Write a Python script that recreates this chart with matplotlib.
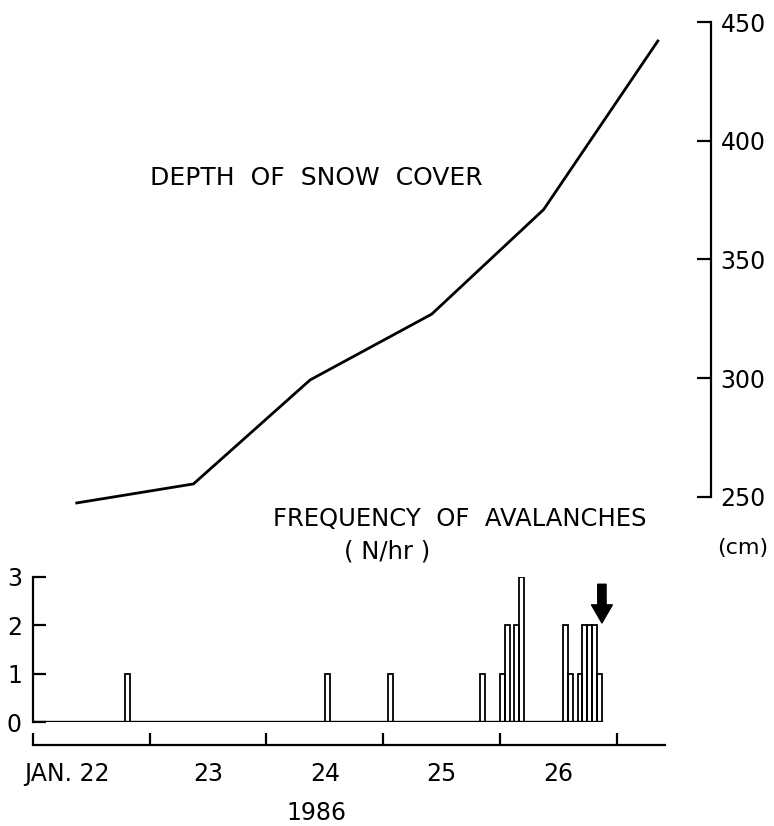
import numpy as np
import matplotlib
matplotlib.use("Agg")
import matplotlib.pyplot as plt

# snow depth, read every day at about 9 h (hours counted from Jan 22, 0 h)
depth_hours = [9, 33, 57, 82, 105, 128.5]
depth_cm = [247.5, 255.5, 299.3, 327.0, 371.0, 442.0]

# avalanche counts per hour (only hours with avalanches)
aval_hours = [19, 60, 73, 92, 96, 97, 99, 100, 109, 110, 112, 113, 114, 115, 116]
aval_counts = [1, 1, 1, 1, 1, 2, 2, 3, 2, 1, 1, 2, 2, 2, 1]

day_labels = ["JAN. 22", "23", "24", "25", "26"]
day_label_pos = [7, 36, 60, 84, 108]
depth_ticks = [250, 300, 350, 400, 450]
freq_ticks = [0, 1, 2, 3]
arrow_hour = aval_hours[-1] + 1

W, H = 774, 826
plt.rcParams['font.family'] = ['DejaVu Sans']
fig = plt.figure(figsize=(W / 100, H / 100), dpi=100)

px_per_hr = 116.7 / 24
xmax = (711 - 33) / px_per_hr

# upper panel: depth of snow cover
ax1 = fig.add_axes([33 / W, 1 - 497 / H, 678 / W, 475 / H])
ax1.plot(depth_hours, depth_cm, color='black', lw=2.0, clip_on=False)
ax1.set_xlim(0, xmax)
ax1.set_ylim(250, 450)
for s in ['left', 'top', 'bottom']:
    ax1.spines[s].set_visible(False)
ax1.spines['right'].set_linewidth(1.6)
ax1.yaxis.tick_right()
ax1.set_xticks([])
ax1.set_yticks(depth_ticks)
ax1.tick_params(axis='y', direction='in', length=10, width=1.6, pad=7, labelsize=17)
ax1.patch.set_alpha(0)

# lower panel: avalanches per hour
ax2 = fig.add_axes([33 / W, 1 - 722 / H, 678 / W, 145 / H])
ax2.bar(aval_hours, aval_counts, width=1, align='edge', fill=False,
        edgecolor='black', linewidth=1.3)
ax2.plot([0, aval_hours[-1] + 1], [0, 0], color='black', lw=1.7)
ax2.set_xlim(0, xmax)
ax2.set_ylim(0, 3)
ax2.spines['top'].set_visible(False)
ax2.spines['right'].set_visible(False)
ax2.spines['left'].set_linewidth(1.6)
ax2.spines['bottom'].set_linewidth(1.6)
ax2.spines['bottom'].set_position(('outward', 16.5))
ax2.spines['bottom'].set_bounds(0, 130)
ax2.set_yticks(freq_ticks)
ax2.tick_params(axis='y', direction='in', length=9, width=1.6, pad=8, labelsize=17)
ax2.set_xticks(range(0, 121, 24))
ax2.set_xticks(day_label_pos, minor=True)
ax2.set_xticklabels(day_labels, minor=True)
ax2.tick_params(axis='x', which='major', direction='in', length=9, width=1.6,
                labelbottom=False)
ax2.tick_params(axis='x', which='minor', length=0, pad=12, labelsize=17)
ax2.patch.set_alpha(0)

ax2.annotate('', xy=(arrow_hour, 2.05), xytext=(arrow_hour, 2.85),
             arrowprops=dict(arrowstyle='simple,head_width=1.5,head_length=1.3,tail_width=0.6',
                             color='black', shrinkA=0, shrinkB=0), annotation_clip=False)

fig.text(150 / W, 1 - 178 / H, 'DEPTH  OF  SNOW  COVER', fontsize=18, va='center', ha='left')
fig.text(273 / W, 1 - 519 / H, 'FREQUENCY  OF  AVALANCHES', fontsize=17.5, va='center', ha='left')
fig.text(387 / W, 1 - 552 / H, '( N/hr )', fontsize=17.5, va='center', ha='center')
fig.text(768 / W, 1 - 548 / H, '(cm)', fontsize=16, va='center', ha='right')
fig.text(316 / W, 1 - 813 / H, '1986', fontsize=17, va='center', ha='center')

fig.savefig('out.png', dpi=100, facecolor='white')
